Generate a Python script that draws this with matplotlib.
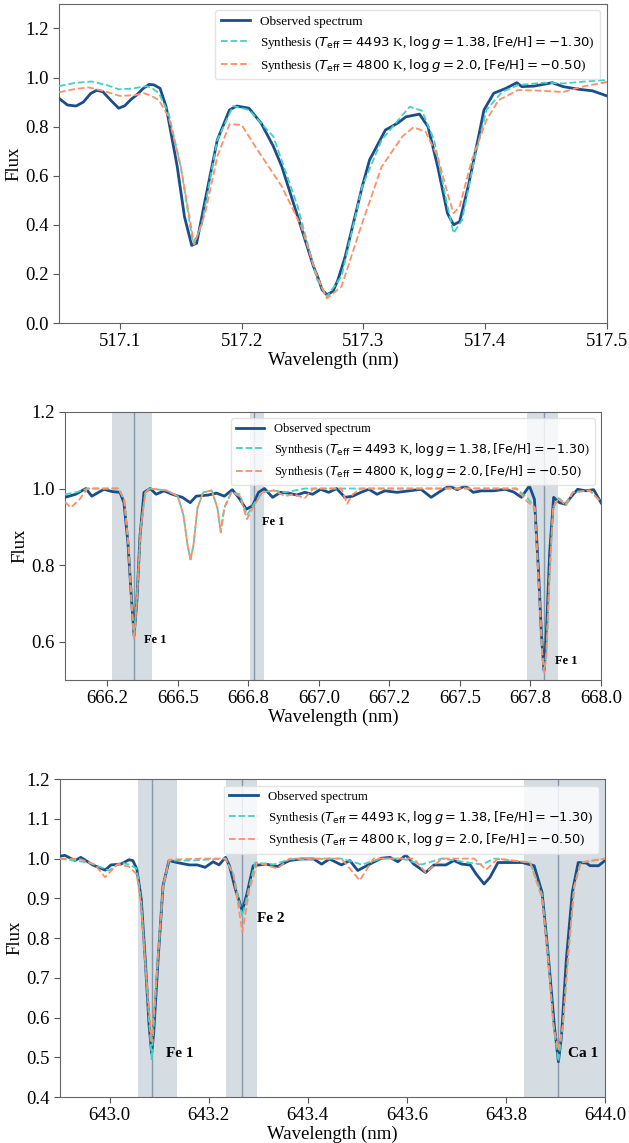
import numpy as np
import matplotlib
matplotlib.use("Agg")
import matplotlib.pyplot as plt

plt.rcParams['font.family'] = ['Liberation Serif', 'DejaVu Serif']
plt.rcParams['mathtext.fontset'] = 'dejavusans'

# ---- panel 1 : 517.05 - 517.5 nm
wl1_obs = [517.050, 517.057, 517.064, 517.070, 517.076, 517.081, 517.086, 517.093, 517.099, 517.104,
           517.109, 517.114, 517.119, 517.124, 517.128, 517.133, 517.138, 517.147, 517.153,
           517.159, 517.163, 517.170, 517.180, 517.190, 517.196, 517.206, 517.216, 517.226, 517.233,
           517.246, 517.259, 517.263, 517.266, 517.270, 517.275, 517.279, 517.285, 517.299, 517.305,
           517.318, 517.328, 517.335, 517.346, 517.353, 517.361, 517.369, 517.374, 517.379, 517.386,
           517.394, 517.399, 517.407, 517.417, 517.426, 517.430, 517.440, 517.455, 517.464, 517.477,
           517.488, 517.500]
fl1_obs = [0.915, 0.888, 0.884, 0.900, 0.935, 0.948, 0.942, 0.905, 0.875, 0.885,
           0.910, 0.930, 0.955, 0.972, 0.970, 0.956, 0.880, 0.640, 0.434,
           0.316, 0.325, 0.500, 0.746, 0.868, 0.884, 0.875, 0.814, 0.720, 0.637,
           0.434, 0.230, 0.180, 0.136, 0.115, 0.129, 0.175, 0.270, 0.556, 0.664,
           0.786, 0.814, 0.840, 0.851, 0.800, 0.637, 0.447, 0.400, 0.413, 0.556,
           0.746, 0.868, 0.936, 0.956, 0.979, 0.963, 0.965, 0.979, 0.963, 0.952,
           0.946, 0.925]
wl1_syn1 = [517.050, 517.063, 517.077, 517.090, 517.099, 517.110, 517.122, 517.127, 517.132, 517.140,
            517.150, 517.160, 517.167, 517.180, 517.193, 517.206, 517.226, 517.246, 517.262, 517.270,
            517.282, 517.299, 517.315, 517.332, 517.338, 517.348, 517.358, 517.368, 517.374, 517.381,
            517.391, 517.401, 517.414, 517.427, 517.447, 517.464, 517.483, 517.500]
fl1_syn1 = [0.965, 0.978, 0.984, 0.968, 0.952, 0.955, 0.965, 0.955, 0.936, 0.854,
            0.637, 0.325, 0.393, 0.746, 0.884, 0.868, 0.760, 0.475, 0.176, 0.108,
            0.190, 0.556, 0.746, 0.847, 0.881, 0.865, 0.746, 0.500, 0.366, 0.420,
            0.664, 0.868, 0.942, 0.969, 0.979, 0.976, 0.984, 0.990]
wl1_syn2 = [517.050, 517.062, 517.074, 517.087, 517.100, 517.112, 517.120, 517.126, 517.132, 517.140,
            517.150, 517.161, 517.170, 517.180, 517.190, 517.200, 517.213, 517.233, 517.249, 517.262,
            517.270, 517.282, 517.299, 517.315, 517.332, 517.341, 517.351, 517.361, 517.369, 517.374,
            517.379, 517.389, 517.401, 517.411, 517.427, 517.447, 517.464, 517.480, 517.500]
fl1_syn2 = [0.940, 0.952, 0.960, 0.945, 0.925, 0.928, 0.936, 0.925, 0.908, 0.840,
            0.637, 0.319, 0.447, 0.678, 0.810, 0.807, 0.705, 0.556, 0.393, 0.190,
            0.100, 0.149, 0.407, 0.637, 0.760, 0.797, 0.780, 0.678, 0.529, 0.447,
            0.475, 0.664, 0.827, 0.908, 0.949, 0.946, 0.941, 0.963, 0.982]

# ---- panel 2 : 666.1 - 668.0 nm
wl2_obs = [666.100, 666.138, 666.174, 666.195, 666.238, 666.267, 666.295, 666.309, 666.323, 666.335,
           666.345, 666.355, 666.366, 666.380, 666.402, 666.423, 666.451, 666.480, 666.516, 666.530,
           666.544, 666.565, 666.608, 666.637, 666.665, 666.693, 666.715, 666.743, 666.765, 666.786,
           666.807, 666.836, 666.864, 666.893, 666.921, 666.950, 666.978, 667.006, 667.035, 667.063,
           667.092, 667.120, 667.149, 667.177, 667.206, 667.234, 667.277, 667.320, 667.362, 667.398,
           667.433, 667.462, 667.490, 667.519, 667.547, 667.576, 667.618, 667.661, 667.690, 667.718,
           667.746, 667.764, 667.778, 667.789, 667.798, 667.806, 667.818, 667.832, 667.853, 667.874,
           667.896, 667.917, 667.946, 667.974, 668.000]
fl2_obs = [0.977, 0.985, 1.000, 0.980, 0.998, 0.992, 0.990, 0.963, 0.860, 0.720,
           0.616, 0.710, 0.876, 0.990, 1.000, 0.985, 0.994, 0.985, 0.977, 0.970,
           0.963, 0.980, 0.983, 0.988, 0.980, 0.997, 0.977, 0.946, 0.955, 0.990,
           1.000, 0.977, 0.990, 0.988, 0.983, 0.990, 0.985, 0.998, 0.990, 1.000,
           0.977, 0.980, 0.990, 0.998, 0.985, 0.994, 0.990, 0.994, 0.998, 0.977,
           0.994, 1.007, 0.997, 1.007, 0.990, 0.994, 0.994, 0.998, 0.991, 0.977,
           1.007, 0.972, 0.790, 0.616, 0.524, 0.616, 0.833, 0.977, 0.963, 0.959,
           0.980, 0.998, 0.994, 0.997, 0.963]
wl2_syn1 = [666.100, 666.140, 666.180, 666.290, 666.310, 666.325, 666.335, 666.345, 666.355, 666.368,
            666.385, 666.400, 666.460, 666.500, 666.520, 666.535, 666.545, 666.555, 666.570, 666.590,
            666.620, 666.640, 666.652, 666.665, 666.690, 666.720, 666.745, 666.770, 666.800, 666.840,
            666.880, 666.950, 667.700, 667.740, 667.765, 667.780, 667.792, 667.799, 667.806, 667.818,
            667.830, 667.850, 667.875, 667.900, 667.960, 668.000]
fl2_syn1 = [0.985, 0.990, 1.000, 1.000, 0.970, 0.850, 0.720, 0.610, 0.720, 0.900,
            0.990, 1.000, 0.995, 0.980, 0.930, 0.850, 0.815, 0.850, 0.950, 0.990,
            0.995, 0.950, 0.890, 0.950, 0.990, 0.985, 0.930, 0.960, 0.990, 0.995,
            0.990, 1.000, 1.000, 0.975, 0.950, 0.750, 0.570, 0.530, 0.570, 0.780,
            0.950, 0.975, 0.960, 0.990, 0.995, 0.965]
wl2_syn2 = [666.100, 666.120, 666.150, 666.180, 666.290, 666.310, 666.325, 666.335, 666.345, 666.355,
            666.368, 666.385, 666.400, 666.460, 666.500, 666.520, 666.535, 666.545, 666.555, 666.570,
            666.590, 666.620, 666.640, 666.652, 666.665, 666.690, 666.720, 666.745, 666.770, 666.800,
            666.840, 666.880, 666.910, 666.950, 666.980, 667.080, 667.100, 667.120, 667.150, 667.700,
            667.740, 667.765, 667.780, 667.792, 667.799, 667.806, 667.818, 667.830, 667.850, 667.875,
            667.900, 667.960, 668.000]
fl2_syn2 = [0.965, 0.950, 0.970, 1.000, 1.000, 0.970, 0.850, 0.710, 0.605, 0.710,
            0.890, 0.990, 1.000, 0.995, 0.980, 0.930, 0.850, 0.815, 0.850, 0.950,
            0.990, 0.995, 0.950, 0.885, 0.950, 0.990, 0.980, 0.920, 0.955, 0.990,
            0.995, 0.980, 0.985, 0.975, 1.000, 1.000, 0.960, 0.985, 1.000, 1.000,
            0.965, 0.950, 0.740, 0.560, 0.520, 0.560, 0.780, 0.950, 0.975, 0.955,
            0.990, 0.995, 0.965]

# ---- panel 3 : 642.9 - 644.0 nm
wl3_obs = [642.900, 642.910, 642.930, 642.942, 642.966, 642.991, 643.003, 643.023, 643.039, 643.047,
           643.055, 643.064, 643.072, 643.080, 643.085, 643.089, 643.098, 643.108, 643.120, 643.136,
           643.161, 643.177, 643.193, 643.209, 643.221, 643.234, 643.242, 643.254, 643.268, 643.278,
           643.290, 643.315, 643.339, 643.363, 643.387, 643.412, 643.428, 643.444, 643.468, 643.485,
           643.501, 643.525, 643.549, 643.566, 643.582, 643.598, 643.614, 643.638, 643.655, 643.679,
           643.695, 643.711, 643.728, 643.740, 643.756, 643.768, 643.784, 643.808, 643.833, 643.857,
           643.873, 643.885, 643.898, 643.906, 643.912, 643.922, 643.934, 643.946, 643.962, 643.970,
           643.987, 644.000]
fl3_obs = [1.006, 1.008, 0.995, 1.003, 0.984, 0.971, 0.984, 0.986, 0.997, 0.995,
           0.974, 0.898, 0.746, 0.577, 0.510, 0.560, 0.746, 0.932, 0.995, 0.990,
           0.984, 0.984, 0.978, 0.992, 0.984, 1.003, 0.982, 0.923, 0.868, 0.915,
           0.982, 0.986, 0.980, 0.995, 0.999, 0.999, 0.986, 0.999, 0.984, 0.995,
           0.970, 0.986, 1.001, 1.003, 0.992, 1.009, 0.986, 0.965, 0.984, 0.984,
           0.995, 0.986, 0.984, 0.961, 0.936, 0.953, 0.990, 0.990, 0.990, 0.982,
           0.915, 0.763, 0.577, 0.489, 0.550, 0.746, 0.915, 0.990, 0.989, 0.982,
           0.982, 0.995]
wl3_syn1 = [642.900, 642.958, 642.999, 643.023, 643.039, 643.055, 643.064, 643.073, 643.085, 643.095,
            643.108, 643.120, 643.161, 643.209, 643.234, 643.250, 643.268, 643.282, 643.294, 643.331,
            643.363, 643.468, 643.509, 643.549, 643.590, 643.630, 643.671, 643.752, 643.776, 643.849,
            643.873, 643.885, 643.896, 643.906, 643.915, 643.926, 643.938, 643.951, 644.000]
fl3_syn1 = [1.000, 0.990, 0.970, 0.990, 0.985, 0.975, 0.890, 0.720, 0.495, 0.700,
            0.930, 0.995, 0.995, 0.998, 1.000, 0.960, 0.855, 0.930, 0.990, 0.985,
            0.998, 1.000, 0.985, 1.000, 1.000, 0.985, 1.000, 0.985, 1.000, 0.990,
            0.910, 0.760, 0.580, 0.490, 0.580, 0.760, 0.930, 0.990, 1.000]
wl3_syn2 = [642.900, 642.942, 642.970, 642.991, 643.015, 643.039, 643.055, 643.064, 643.073, 643.085,
            643.095, 643.108, 643.120, 643.185, 643.234, 643.250, 643.268, 643.282, 643.298, 643.339,
            643.363, 643.468, 643.505, 643.533, 643.614, 643.638, 643.671, 643.736, 643.760, 643.784,
            643.849, 643.873, 643.885, 643.896, 643.906, 643.915, 643.926, 643.938, 643.951, 644.000]
fl3_syn2 = [1.000, 0.998, 0.985, 0.953, 0.985, 0.980, 0.960, 0.880, 0.720, 0.540,
            0.700, 0.930, 0.997, 1.000, 1.000, 0.960, 0.815, 0.920, 0.990, 0.975,
            1.000, 1.000, 0.945, 1.000, 1.000, 0.965, 1.000, 1.000, 0.972, 1.000,
            0.990, 0.900, 0.750, 0.580, 0.518, 0.580, 0.760, 0.930, 0.990, 1.000]

# line regions (band start, band end, line centre) and labels
bands2 = [(666.265, 666.407, 666.345), (666.755, 666.807, 666.770), (667.738, 667.848, 667.799)]
labels2 = [("Fe 1", 666.380, 0.604), ("Fe 1", 666.800, 0.912), ("Fe 1", 667.836, 0.55)]
bands3 = [(643.057, 643.136, 643.085), (643.236, 643.297, 643.268), (643.837, 644.05, 643.906)]
labels3 = [("Fe 1", 643.114, 0.51), ("Fe 2", 643.297, 0.849), ("Ca 1", 643.926, 0.51)]

obs_label = "Observed spectrum"
syn1_label = r"Synthesis ($T_{\rm eff} = 4493$ K, $\log g = 1.38, {\rm [Fe/H]} = -1.30$)"
syn2_label = r"Synthesis ($T_{\rm eff} = 4800$ K, $\log g = 2.0, {\rm [Fe/H]} = -0.50$)"

c_obs = '#1b4d89'
c_syn1 = '#45d0c4'
c_syn2 = '#ff8f66'
c_band = '#d5dce2'
c_vline = '#8498aa'
fs = 13.5


def draw_panel(ax, wo, fo, w1, f1, w2, f2, lsize):
    ax.plot(wo, fo, color=c_obs, lw=2.0, label=obs_label, zorder=3)
    ax.plot(w1, f1, color=c_syn1, lw=1.3, ls='--', label=syn1_label, zorder=4)
    ax.plot(w2, f2, color=c_syn2, lw=1.3, ls='--', label=syn2_label, zorder=5)
    ax.set_xlabel("Wavelength (nm)", fontsize=fs, labelpad=1)
    ax.set_ylabel("Flux", fontsize=fs, labelpad=2)
    ax.tick_params(labelsize=fs, length=4, color='#555555')
    for s in ax.spines.values():
        s.set_color('#666666')
    ax.legend(loc='upper right', fontsize=lsize, framealpha=0.8, edgecolor='#dddddd',
              handlelength=2.2, labelspacing=0.45)


def draw_bands(ax, bands, labels, tsize):
    for b0, b1, c in bands:
        ax.axvspan(b0, b1, color=c_band, lw=0, zorder=1)
        ax.axvline(c, color=c_vline, lw=1.0, zorder=2)
    for t, x, y in labels:
        ax.text(x, y, t, fontsize=tsize, fontweight='bold', ha='left', va='center', zorder=6)


fig = plt.figure(figsize=(6.29, 11.43), dpi=100)

ax1 = fig.add_axes([0.0938, 0.7174, 0.8712, 0.2792])
draw_panel(ax1, wl1_obs, fl1_obs, wl1_syn1, fl1_syn1, wl1_syn2, fl1_syn2, 9.5)
ax1.set_xlim(517.05, 517.5)
ax1.set_ylim(0.0, 1.3)
ax1.set_xticks([517.1, 517.2, 517.3, 517.4, 517.5])
ax1.set_yticks(np.arange(0, 1.21, 0.2))

ax2 = fig.add_axes([0.1033, 0.4051, 0.8522, 0.2345])
draw_bands(ax2, bands2, labels2, 9)
draw_panel(ax2, wl2_obs, fl2_obs, wl2_syn1, fl2_syn1, wl2_syn2, fl2_syn2, 9.0)
ax2.set_xlim(666.1, 668.0)
ax2.set_ylim(0.5, 1.2)
ax2.set_xticks(np.arange(666.25, 668.01, 0.25))
ax2.xaxis.set_major_formatter(matplotlib.ticker.FormatStrFormatter('%.1f'))
ax2.set_yticks([0.6, 0.8, 1.0, 1.2])

ax3 = fig.add_axes([0.0954, 0.0402, 0.8664, 0.2782])
draw_bands(ax3, bands3, labels3, 11)
draw_panel(ax3, wl3_obs, fl3_obs, wl3_syn1, fl3_syn1, wl3_syn2, fl3_syn2, 9.3)
ax3.set_xlim(642.9, 644.0)
ax3.set_ylim(0.4, 1.2)
ax3.set_xticks(np.arange(643.0, 644.01, 0.2))
ax3.set_yticks(np.arange(0.4, 1.21, 0.1))
ax3.xaxis.set_major_formatter(matplotlib.ticker.FormatStrFormatter('%.1f'))
ax3.yaxis.set_major_formatter(matplotlib.ticker.FormatStrFormatter('%.1f'))

fig.savefig("out.png", dpi=100)
